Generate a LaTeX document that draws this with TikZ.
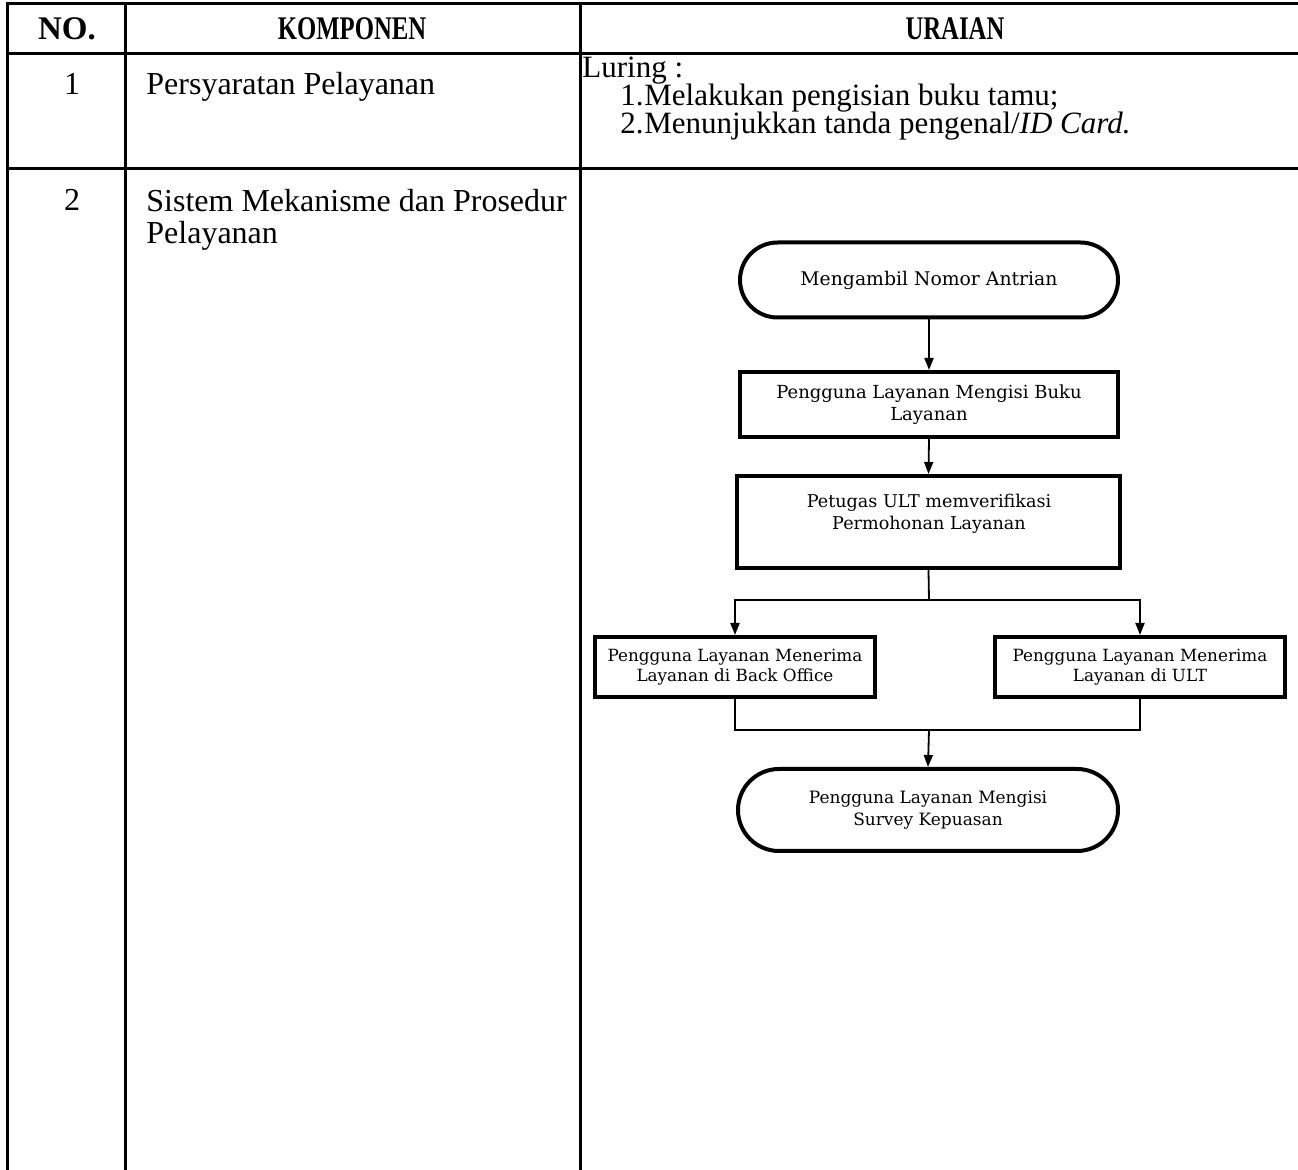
\documentclass[tikz,border=0pt]{standalone}
\usepackage{fontspec}
\setmainfont{Liberation Serif}
\newfontfamily\headfont[FakeStretch=0.75]{Liberation Serif}
\newfontfamily\flowfont{DejaVu Serif}
\newcommand\mytightlines{\lineskiplimit=-20pt\relax\lineskip=0pt\relax}
\usetikzlibrary{arrows.meta,shapes.misc}
\tikzset{
  tabline/.style={line width=1.5pt,line cap=rect},
  headtxt/.style={font=\headfont\fontsize{16.5}{16}\selectfont\bfseries,inner sep=0pt,anchor=base},
  numtxt/.style={font=\fontsize{16}{16}\selectfont,inner sep=0pt,anchor=base},
  procbox/.style={draw,line width=2pt,rectangle,align=center,font=\flowfont\fontsize{9}{11}\selectfont,inner sep=0pt},
  smallbox/.style={procbox,font=\flowfont\fontsize{8.4}{10}\selectfont},
  termbox/.style={draw,line width=2pt,rounded rectangle,align=center,font=\flowfont\fontsize{9}{11}\selectfont,inner sep=0pt},
  conn/.style={line width=0.9pt},
  arr/.style={conn,-{Triangle[length=6pt,width=4.5pt]}}
}
\begin{document}
\begin{tikzpicture}[x=0.5pt,y=-0.5pt]
\useasboundingbox (0,0) rectangle (1298,1170);
% table grid
\draw[tabline] (7,4) -- (1298,4);
\draw[tabline] (7,54) -- (1298,54);
\draw[tabline] (7,169) -- (1298,169);
\draw[tabline] (7,4) -- (7,1170);
\draw[tabline] (125,4) -- (125,1170);
\draw[tabline] (580,4) -- (580,1170);
% header
\node[headtxt,font=\fontsize{16.5}{16}\selectfont\bfseries] (hno) at (67,40) {NO.};
\node[headtxt] (hkomp) at (352,40) {KOMPONEN};
\node[headtxt] (hur) at (955,40) {URAIAN};
% row 1
\node[numtxt] (n1) at (72,95) {1};
\node[font=\fontsize{16}{16}\selectfont,inner sep=0pt,anchor=base west] (k1) at (146,95) {Persyaratan Pelayanan};
\node[font=\fontsize{15.5}{14}\selectfont\mytightlines,inner sep=0pt,anchor=north west,align=left] (u1) at (582,57)
  {Luring :\\
   \hspace*{19pt}\makebox[12pt][l]{1.}Melakukan pengisian buku tamu;\\
   \hspace*{19pt}\makebox[12pt][l]{2.}Menunjukkan tanda pengenal/\textit{ID Card.}};
% row 2
\node[numtxt] (n2) at (72,211) {2};
\node[font=\fontsize{16}{16}\selectfont,inner sep=0pt,anchor=north west,align=left] (k2) at (146,189)
  {Sistem Mekanisme dan Prosedur\\Pelayanan};
% flowchart
\node[termbox,minimum width=189pt,minimum height=37.5pt,font=\flowfont\fontsize{9.4}{11}\selectfont] (t1) at (929,280) {Mengambil Nomor Antrian};
\node[procbox,minimum width=189pt,minimum height=32.5pt] (b2) at (929,404.5) {Pengguna Layanan Mengisi Buku\\Layanan};
\node[procbox,minimum width=191.5pt,minimum height=46pt] (b3) at (928.5,522) {};
\node[align=center,inner sep=0pt,font=\flowfont\fontsize{8.8}{11}\selectfont] (t3) at (929,514) {Petugas ULT memverifikasi\\Permohonan Layanan};
\node[smallbox,minimum width=140pt,minimum height=30pt] (b4) at (735,667) {Pengguna Layanan Menerima\\Layanan di Back Office};
\node[smallbox,minimum width=145pt,minimum height=30pt] (b5) at (1140,667) {Pengguna Layanan Menerima\\Layanan di ULT};
\node[termbox,minimum width=190pt,minimum height=41pt,font=\flowfont\fontsize{8.5}{11}\selectfont] (t2) at (928,810) {Pengguna Layanan Mengisi\\Survey Kepuasan};
\coordinate (split) at (929,600);
\coordinate (join) at (929,730);
\draw[arr] (t1.south) -- (b2.north);
\draw[arr] (b2.south) -- (b3.north);
\draw[conn] (b3.south) -- (split);
\draw[arr] (split) -| (b4.north);
\draw[arr] (split) -| (b5.north);
\draw[conn] (b4.south) |- (join) -| (b5.south);
\draw[arr] (join) -- (t2.north);
\end{tikzpicture}
\end{document}
